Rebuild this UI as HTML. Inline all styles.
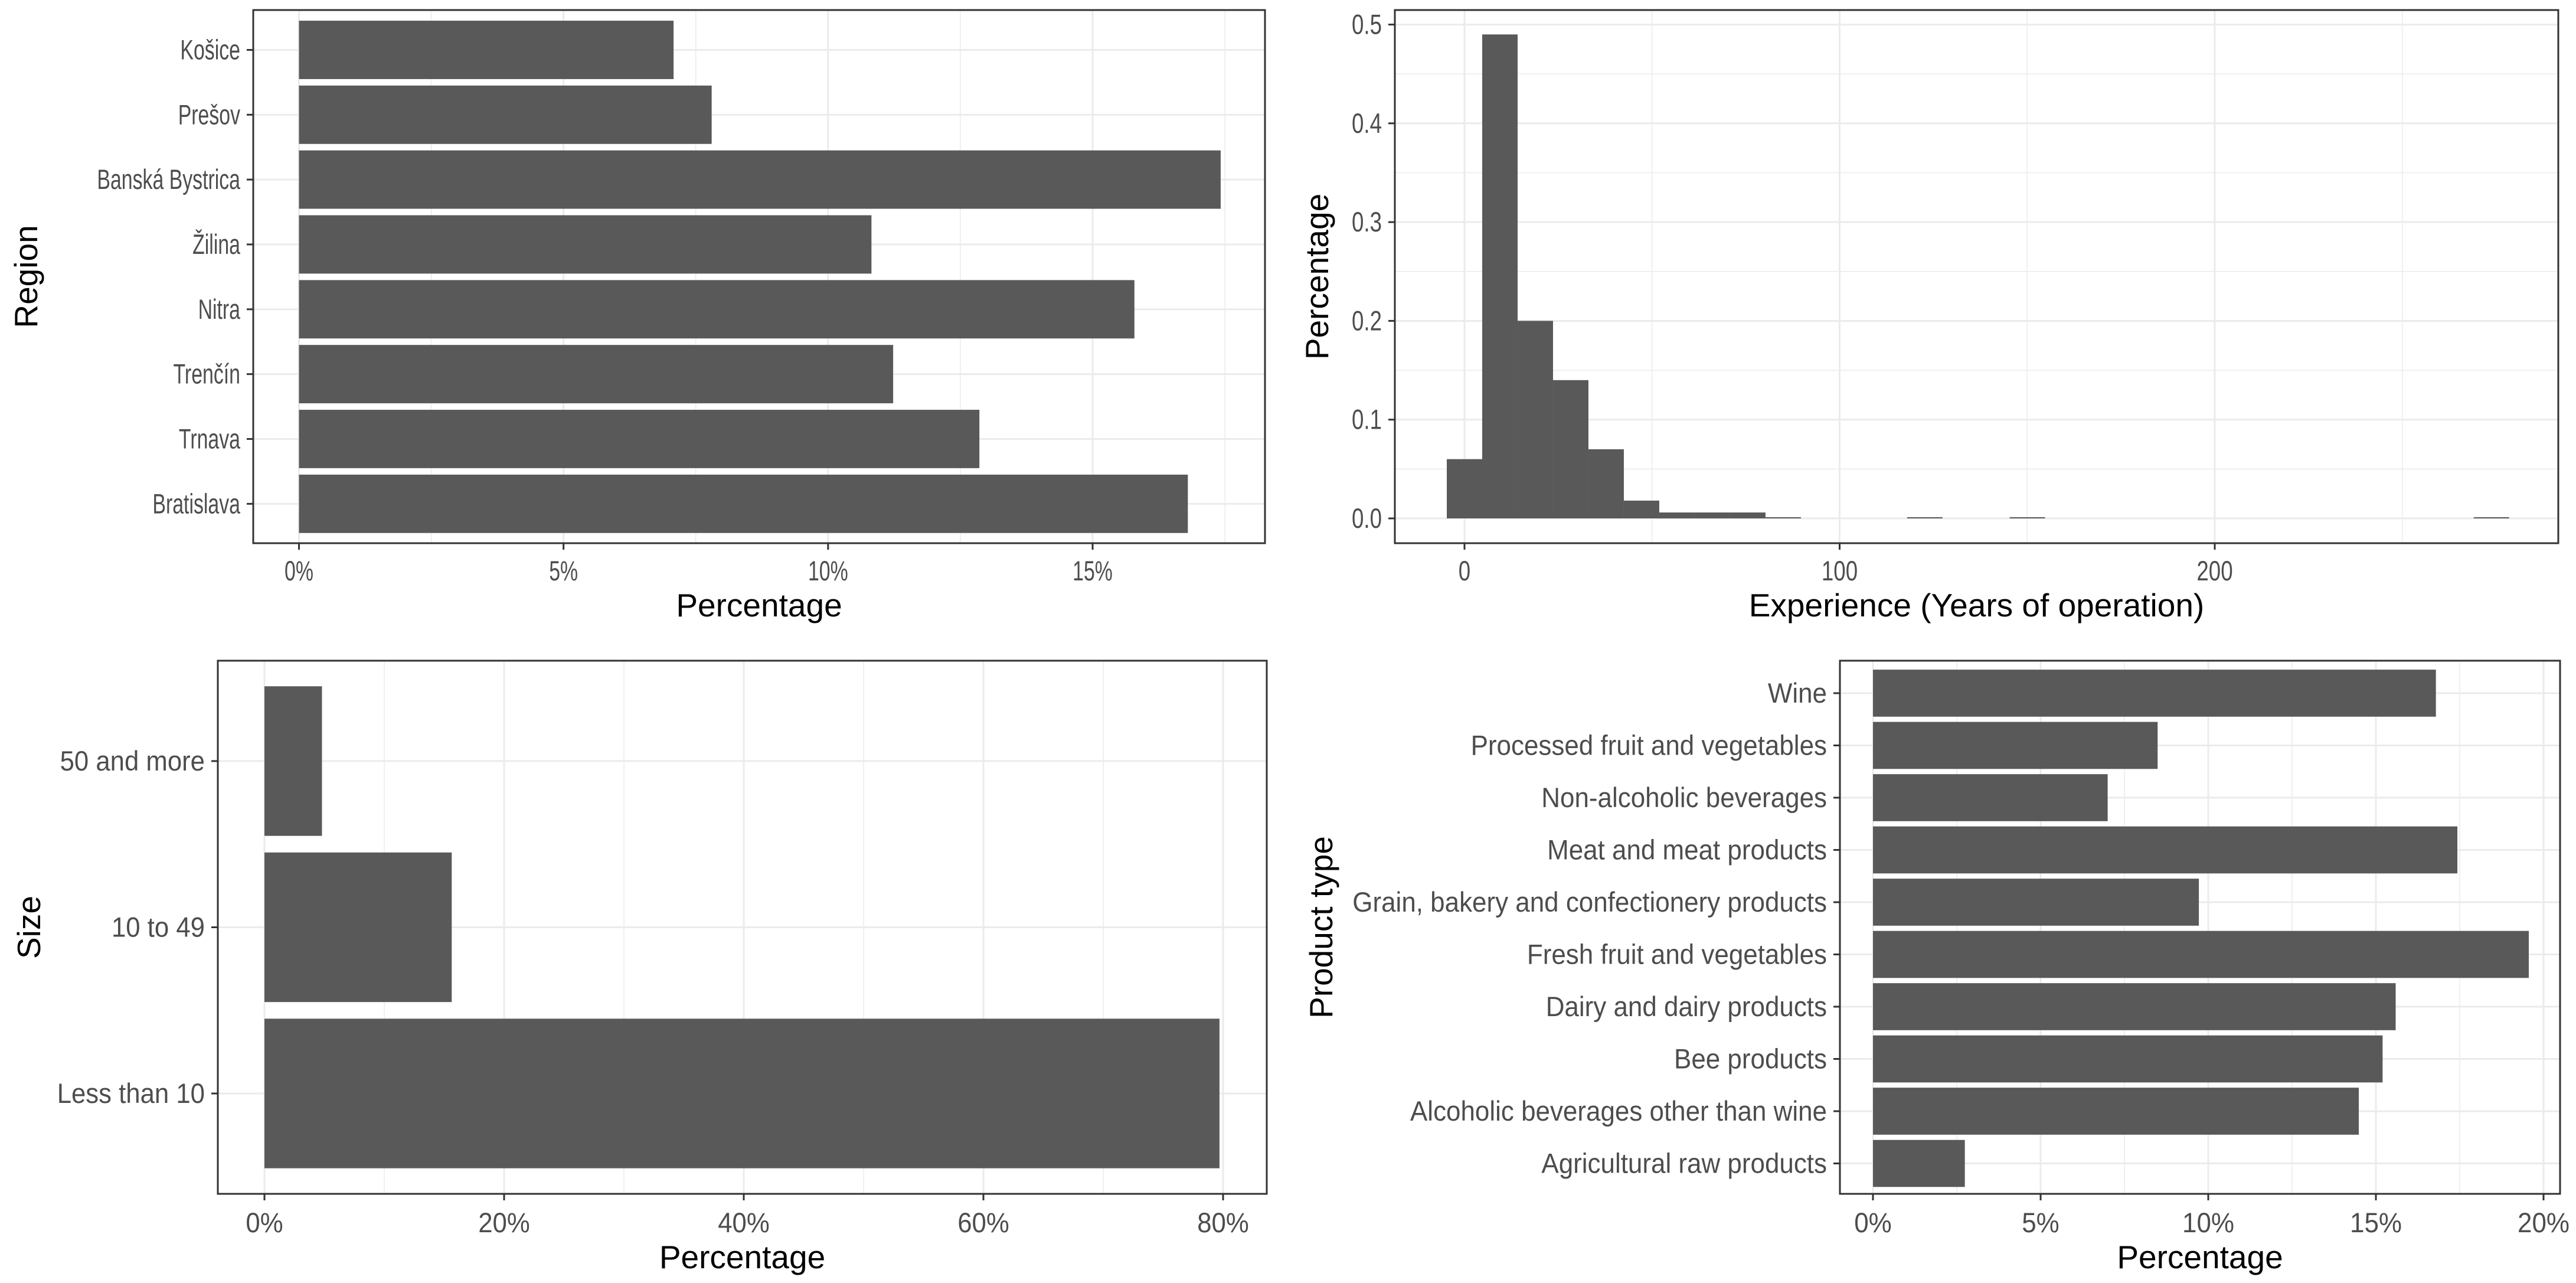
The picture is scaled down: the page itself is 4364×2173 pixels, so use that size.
<!DOCTYPE html>
<html><head><meta charset="utf-8">
<style>
html,body{margin:0;padding:0;background:#fff;}
svg{display:block;font-family:"Liberation Sans",Arial,sans-serif;}
</style></head>
<body>
<svg id="c" width="4364" height="2173" viewBox="0 0 4364 2173" xmlns="http://www.w3.org/2000/svg"></svg>
<script>
// ---- Data ----
const regionCats = ["Bratislava","Trnava","Trenčín","Nitra","Žilina","Banská Bystrica","Prešov","Košice"];
const regionVals = [16.8,12.86,11.23,15.79,10.82,17.42,7.8,7.08];
const regionTicks = [0,5,10,15];

const expBinCenters = [0,9.44,18.88,28.32,37.76,47.2,56.64,66.08,75.52,84.96,122.72,150.04,273.76];
const expHeights = [0.06,0.49,0.2,0.14,0.07,0.018,0.006,0.006,0.006,0.001,0.001,0.001,0.001];
const expBinWidth = 9.44;
const expXTicks = [0,100,200];
const expYTicks = [0,0.1,0.2,0.3,0.4,0.5];
const expYTickLabels = ["0.0","0.1","0.2","0.3","0.4","0.5"];

const sizeCats = ["Less than 10","10 to 49","50 and more"];
const sizeVals = [79.7,15.63,4.8];
const sizeTicks = [0,20,40,60,80];

const prodCats = ["Agricultural raw products","Alcoholic beverages other than wine","Bee products","Dairy and dairy products","Fresh fruit and vegetables","Grain, bakery and confectionery products","Meat and meat products","Non-alcoholic beverages","Processed fruit and vegetables","Wine"];
const prodVals = [2.74,14.49,15.2,15.59,19.56,9.72,17.43,7.0,8.49,16.79];
const prodTicks = [0,5,10,15,20];

const NS="http://www.w3.org/2000/svg";
const svg=document.getElementById('c');
function mk(tag,attrs,parent){const e=document.createElementNS(NS,tag);for(const k in attrs)e.setAttribute(k,attrs[k]);(parent||svg).appendChild(e);return e;}
const BAR="#595959", GRID="#ebebeb", TICKC="#4d4d4d";
const TFS=47;
function squeeze(t,sq){if(sq>=1)return;const w=t.getComputedTextLength();if(w>0){t.setAttribute('textLength',(w*sq).toFixed(1));t.setAttribute('lengthAdjust','spacingAndGlyphs');}}

function panelFrame(g,L,R,T,B){
  const r=mk('rect',{x:L,y:T,width:R-L,height:B-T,fill:'none',stroke:'#333',"stroke-width":3},g);
  
  
}

function hbar(name,cats,vals,ticks,P,yTitle){
  const g=mk('g',{});
  
  
  const xs=v=>P.x0+(v-ticks[0])*(P.x1-P.x0)/(ticks[ticks.length-1]-ticks[0]);
  const step=(P.yLast-P.yFirst)/(cats.length-1);
  const ys=i=>P.yFirst+(cats.length-1-i)*step;
  for(let i=0;i<ticks.length;i++){
    const m=i<ticks.length-1?(ticks[i]+ticks[i+1])/2:ticks[i]+(ticks[1]-ticks[0])/2;
    if(xs(m)<P.R){const l=mk('line',{x1:xs(m),x2:xs(m),y1:P.T,y2:P.B,stroke:GRID,"stroke-width":1.5},g);
      }
  }
  ticks.forEach(t=>{const l=mk('line',{x1:xs(t),x2:xs(t),y1:P.T,y2:P.B,stroke:GRID,"stroke-width":3},g);
    });
  cats.forEach((c,i)=>{const l=mk('line',{x1:P.L,x2:P.R,y1:ys(i),y2:ys(i),stroke:GRID,"stroke-width":3},g);
    });
  const bh=step*0.9;
  vals.forEach((v,i)=>{const r=mk('rect',{x:xs(0),y:ys(i)-bh/2,width:xs(v)-xs(0),height:bh,fill:BAR},g);
    
    });
  panelFrame(g,P.L,P.R,P.T,P.B);
  cats.forEach((c,i)=>{
    const tk=mk('line',{x1:P.L-11,x2:P.L,y1:ys(i),y2:ys(i),stroke:'#333',"stroke-width":3},g);
    
    const t=mk('text',{x:P.L-22,y:ys(i)+16,"text-anchor":'end',"font-size":TFS,fill:TICKC},g);
    t.textContent=c;
    squeeze(t,P.sq);
  });
  ticks.forEach(tv=>{
    const tk=mk('line',{x1:xs(tv),x2:xs(tv),y1:P.B,y2:P.B+11,stroke:'#333',"stroke-width":3},g);
    
    const t=mk('text',{x:xs(tv),y:P.xLabY,"text-anchor":'middle',"font-size":TFS,fill:TICKC},g);
    t.textContent=tv+'%';
    squeeze(t,P.sq);
  });
  const xt=mk('text',{x:(P.L+P.R)/2,y:P.xTitleY,"text-anchor":'middle',"font-size":55,fill:'#000'},g);
  xt.textContent='Percentage';
  const yc=(P.T+P.B)/2;
  const yt=mk('text',{x:P.yTitleX,y:yc,"text-anchor":'middle',"font-size":55,fill:'#000',transform:`rotate(-90 ${P.yTitleX} ${yc})`},g);
  yt.textContent=yTitle;
}

hbar('region-chart',regionCats,regionVals,regionTicks,
  {L:429,R:2143,T:17,B:920,x0:506.5,x1:1851,yFirst:84.5,yLast:853.3,xLabY:983,xTitleY:1044,yTitleX:63,sq:0.72},'Region');
hbar('size-chart',sizeCats,sizeVals,sizeTicks,
  {L:369,R:2146,T:1119,B:2022,x0:448,x1:2072,yFirst:1289,yLast:1852,xLabY:2087,xTitleY:2148,yTitleX:68,sq:0.93},'Size');
hbar('product-chart',prodCats,prodVals,prodTicks,
  {L:3117,R:4337,T:1119,B:2022,x0:3173,x1:4309,yFirst:1174,yLast:1970.5,xLabY:2087,xTitleY:2148,yTitleX:2257,sq:0.935},'Product type');

// ---- Histogram ----
(function(){
  const SQ=0.78;
  const g=mk('g',{});
  
  
  const L=2363,R=4334,T=17,B=920;
  const xs=v=>2481+v*(3752-2481)/200;
  const ys=v=>878-v*(878-41.6)/0.5;
  [50,150,250].forEach(m=>{const l=mk('line',{x1:xs(m),x2:xs(m),y1:T,y2:B,stroke:GRID,"stroke-width":1.5},g);
    });
  [0.05,0.15,0.25,0.35,0.45].forEach(m=>{const l=mk('line',{x1:L,x2:R,y1:ys(m),y2:ys(m),stroke:GRID,"stroke-width":1.5},g);
    });
  expXTicks.forEach(t=>{const l=mk('line',{x1:xs(t),x2:xs(t),y1:T,y2:B,stroke:GRID,"stroke-width":3},g);
    });
  expYTicks.forEach(t=>{const l=mk('line',{x1:L,x2:R,y1:ys(t),y2:ys(t),stroke:GRID,"stroke-width":3},g);
    });
  expBinCenters.forEach((c,i)=>{
    const x0=xs(c-expBinWidth/2),x1=xs(c+expBinWidth/2);
    const h=Math.max(ys(0)-ys(expHeights[i]),2);
    const r=mk('rect',{x:x0,y:ys(0)-h,width:x1-x0,height:h,fill:BAR},g);
    
    
  });
  panelFrame(g,L,R,T,B);
  expYTicks.forEach((t,i)=>{
    const tk=mk('line',{x1:L-11,x2:L,y1:ys(t),y2:ys(t),stroke:'#333',"stroke-width":3},g);
    
    const tx=mk('text',{x:L-22,y:ys(t)+16,"text-anchor":'end',"font-size":TFS,fill:TICKC},g);
    tx.textContent=expYTickLabels[i];
    squeeze(tx,SQ);
  });
  expXTicks.forEach(t=>{
    const tk=mk('line',{x1:xs(t),x2:xs(t),y1:B,y2:B+11,stroke:'#333',"stroke-width":3},g);
    
    const tx=mk('text',{x:xs(t),y:983,"text-anchor":'middle',"font-size":TFS,fill:TICKC},g);
    tx.textContent=t;
    squeeze(tx,SQ);
  });
  const xt=mk('text',{x:(L+R)/2,y:1044,"text-anchor":'middle',"font-size":55,fill:'#000'},g);
  xt.textContent='Experience (Years of operation)';
  const yc=(T+B)/2, yx=2250;
  const yt=mk('text',{x:yx,y:yc,"text-anchor":'middle',"font-size":55,fill:'#000',transform:`rotate(-90 ${yx} ${yc})`},g);
  yt.textContent='Percentage';
})();
</script>
</body></html>
